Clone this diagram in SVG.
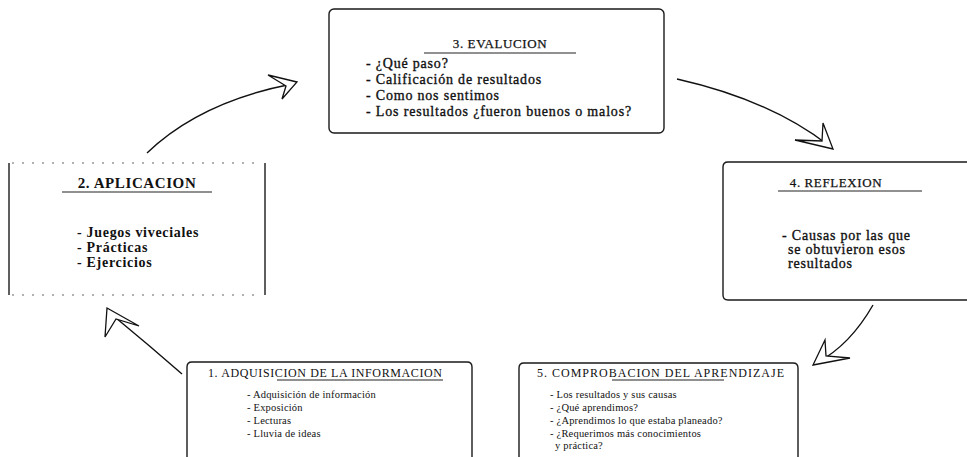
<svg xmlns="http://www.w3.org/2000/svg" width="967" height="457" viewBox="0 0 967 457">
<style>
.box{fill:#fff;stroke:#1a1a1a;stroke-width:1.4}
.dot{fill:none;stroke:#666;stroke-width:1;stroke-dasharray:2 8}
.t{font-family:"Liberation Serif","Times New Roman",serif;fill:#111}
.h{font-size:13px;letter-spacing:0.6px;stroke:#111;stroke-width:0.25}
.hs{font-size:12px}
.m{font-size:14px;letter-spacing:0.8px;stroke:#111;stroke-width:0.35}
.b{font-size:14px;font-weight:bold;letter-spacing:0.7px}
.s{font-size:10.5px;letter-spacing:0.2px}
.ul{stroke:#222;stroke-width:1.2}
.con{fill:none;stroke:#111;stroke-width:1.4}
.head{fill:#fff;stroke:#111;stroke-width:1.3;stroke-linejoin:miter}
</style>
<rect width="967" height="457" fill="#fff"/>
<g id="connectors">
  <path class="con" d="M182,374 Q150,346 116,318"/>
  <path class="head" d="M105,337 L107,308 L139,326 L116,319 Z"/>
  <path class="con" d="M147,153 Q200,102 292,84"/>
  <path class="head" d="M268,75 L297,82 L282,99 L286,86 Z"/>
  <path class="con" d="M677,79 Q770,100 828,145"/>
  <path class="head" d="M795,140 L833,149 L823,123 L822,141 Z"/>
  <path class="con" d="M873,305 Q850,345 818,362"/>
  <path class="head" d="M825,340 L813,365 L850,358 L826,356 Z"/>
</g>
<g id="n3">
  <rect class="box" x="329" y="9" width="335" height="124" rx="5"/>
  <text class="t h" x="500" y="48" text-anchor="middle">3. EVALUCION</text>
  <line class="ul" x1="424" y1="53" x2="576" y2="53"/>
  <text class="t m" x="366" y="68">- ¿Qué paso?</text>
  <text class="t m" x="366" y="84">- Calificación de resultados</text>
  <text class="t m" x="366" y="100">- Como nos sentimos</text>
  <text class="t m" x="366" y="116" textLength="266" lengthAdjust="spacing">- Los resultados ¿fueron buenos o malos?</text>
</g>
<g id="n2">
  <line class="box" x1="9" y1="163" x2="9" y2="295"/>
  <line class="box" x1="265" y1="163" x2="265" y2="295"/>
  <line class="dot" x1="12" y1="163" x2="262" y2="163"/>
  <line class="dot" x1="12" y1="295" x2="262" y2="295"/>
  <text class="t" x="137" y="188" text-anchor="middle" font-weight="bold" font-size="15" letter-spacing="0.6">2. APLICACION</text>
  <line class="ul" x1="62" y1="192" x2="212" y2="192"/>
  <text class="t b" x="77" y="237">- Juegos viveciales</text>
  <text class="t b" x="77" y="252">- Prácticas</text>
  <text class="t b" x="77" y="267">- Ejercicios</text>
</g>
<g id="n4">
  <path class="box" d="M980,162 L728,162 Q723,162 723,167 L723,295 Q723,300 728,300 L980,300"/>
  <text class="t h" x="836" y="187" text-anchor="middle">4. REFLEXION</text>
  <line class="ul" x1="778" y1="191" x2="922" y2="191"/>
  <text class="t m" x="782" y="240">- Causas por las que</text>
  <text class="t m" x="788" y="254">se obtuvieron esos</text>
  <text class="t m" x="788" y="268">resultados</text>
</g>
<g id="n1">
  <path class="box" d="M187,470 L187,367 Q187,362 192,362 L467,362 Q472,362 472,367 L472,470"/>
  <text class="t hs" x="208" y="377" textLength="234" lengthAdjust="spacing">1. ADQUISICION DE LA INFORMACION</text>
  <line class="ul" x1="277" y1="380" x2="443" y2="380"/>
  <text class="t s" x="247" y="398">- Adquisición de información</text>
  <text class="t s" x="247" y="411">- Exposición</text>
  <text class="t s" x="247" y="424">- Lecturas</text>
  <text class="t s" x="247" y="437">- Lluvia de ideas</text>
</g>
<g id="n5">
  <path class="box" d="M519,470 L519,368 Q519,363 524,363 L793,363 Q798,363 798,368 L798,470"/>
  <text class="t hs" x="537" y="377" textLength="247" lengthAdjust="spacing">5. COMPROBACION DEL APRENDIZAJE</text>
  <line class="ul" x1="612" y1="380" x2="724" y2="380"/>
  <text class="t s" x="550" y="398">- Los resultados y sus causas</text>
  <text class="t s" x="550" y="411">- ¿Qué aprendimos?</text>
  <text class="t s" x="550" y="424">- ¿Aprendimos lo que estaba planeado?</text>
  <text class="t s" x="550" y="437">- ¿Requerimos más conocimientos</text>
  <text class="t s" x="555" y="449">y práctica?</text>
</g>
</svg>
